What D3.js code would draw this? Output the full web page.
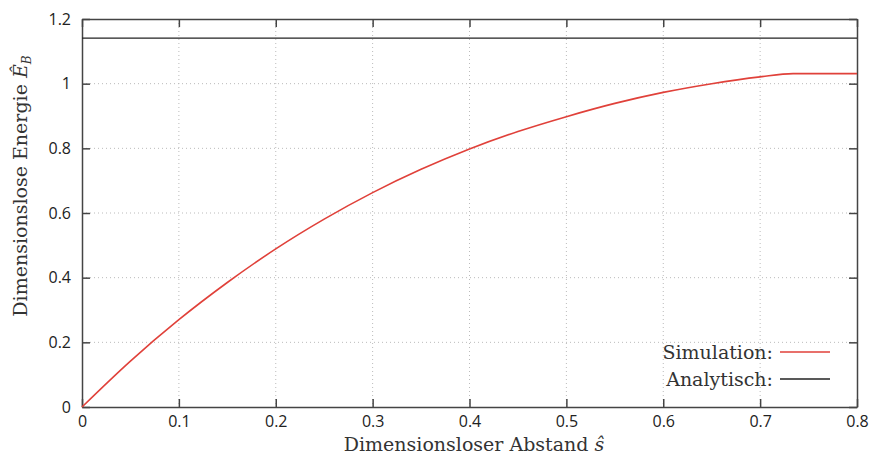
<!DOCTYPE html>
<html>
<head>
<meta charset="utf-8">
<script src="https://cdn.jsdelivr.net/npm/d3@7"></script>
<style>
  body { margin: 0; background: #fff; }
  .tick text { font-family: "Open Sans", sans-serif; font-size: 16px; fill: #222; }
  .title { font-family: "DejaVu Serif", serif; font-size: 19px; fill: #333; }
</style>
</head>
<body>
<div class="chart"></div>
<script>
// Data
var sValues = [0, 0.05, 0.1, 0.15, 0.2, 0.25, 0.3, 0.35, 0.4, 0.45, 0.5, 0.55, 0.6, 0.65, 0.7, 0.734, 0.8];
var simEnergy = [0, 0.142, 0.270, 0.385, 0.489, 0.581, 0.663, 0.735, 0.798, 0.852, 0.898, 0.939, 0.973, 1.0, 1.021, 1.031, 1.031];
var analyticEnergy = 1.141;
var xTicks = [0, 0.1, 0.2, 0.3, 0.4, 0.5, 0.6, 0.7, 0.8];
var yTicks = [0, 0.2, 0.4, 0.6, 0.8, 1, 1.2];

var svgWidth = 872;
var svgHeight = 455;
var margin = { top: 19, right: 15, bottom: 48, left: 82 };
var width = svgWidth - margin.left - margin.right;
var height = svgHeight - margin.top - margin.bottom;

var svg = d3.select(".chart")
  .append("svg")
  .attr("width", svgWidth)
  .attr("height", svgHeight);

var chart = svg.append("g")
  .attr("transform", "translate(" + margin.left + "," + margin.top + ")");

var xScale = d3.scaleLinear().domain([0, 0.8]).range([0, width]);
var yScale = d3.scaleLinear().domain([0, 1.2]).range([height, 0]);

// gridlines
chart.append("g").selectAll("line")
  .data(xTicks.slice(1, -1))
  .enter().append("line")
  .attr("x1", d => xScale(d)).attr("x2", d => xScale(d))
  .attr("y1", 0).attr("y2", height)
  .attr("stroke", "#bbb").attr("stroke-width", 1).attr("stroke-dasharray", "1,3");
chart.append("g").selectAll("line")
  .data(yTicks.slice(1, -1))
  .enter().append("line")
  .attr("x1", 0).attr("x2", width)
  .attr("y1", d => yScale(d)).attr("y2", d => yScale(d))
  .attr("stroke", "#bbb").attr("stroke-width", 1).attr("stroke-dasharray", "1,3");

// axes with inward ticks on all four sides
var fmt = d => d3.format("~g")(d);
var bottomAxis = d3.axisBottom(xScale).tickValues(xTicks).tickFormat(fmt).tickSizeInner(-8).tickSizeOuter(0).tickPadding(9);
var leftAxis = d3.axisLeft(yScale).tickValues(yTicks).tickFormat(fmt).tickSizeInner(-8).tickSizeOuter(0).tickPadding(11);
var topAxis = d3.axisTop(xScale).tickValues(xTicks).tickFormat("").tickSizeInner(-8).tickSizeOuter(0);
var rightAxis = d3.axisRight(yScale).tickValues(yTicks).tickFormat("").tickSizeInner(-8).tickSizeOuter(0);

chart.append("g").attr("transform", "translate(0," + height + ")").call(bottomAxis);
chart.append("g").call(leftAxis);
chart.append("g").call(topAxis);
chart.append("g").attr("transform", "translate(" + width + ",0)").call(rightAxis);

chart.selectAll(".domain").attr("stroke", "#444").attr("stroke-width", 1.5);
chart.selectAll(".tick line").attr("stroke", "#444").attr("stroke-width", 1.5);

// analytic line
chart.append("line")
  .attr("x1", xScale(0)).attr("x2", xScale(0.8))
  .attr("y1", yScale(analyticEnergy)).attr("y2", yScale(analyticEnergy))
  .attr("stroke", "#222").attr("stroke-width", 1.3);

// simulation curve
var line = d3.line()
  .x((d, i) => xScale(sValues[i]))
  .y(d => yScale(d))
  .curve(d3.curveMonotoneX);

chart.append("path")
  .datum(simEnergy)
  .attr("d", line)
  .attr("fill", "none")
  .attr("stroke", "#e0413a")
  .attr("stroke-width", 1.6);

// legend
var legend = [
  { label: "Simulation:", color: "#e0413a", y: 352 },
  { label: "Analytisch:", color: "#222", y: 379 }
];
legend.forEach(function(item) {
  svg.append("text")
    .attr("class", "title")
    .attr("x", 773).attr("y", item.y)
    .attr("dy", "0.35em")
    .attr("text-anchor", "end")
    .text(item.label);
  svg.append("line")
    .attr("x1", 780).attr("x2", 830)
    .attr("y1", item.y).attr("y2", item.y)
    .attr("stroke", item.color).attr("stroke-width", 1.3);
});

// axis titles
var xTitle = svg.append("text")
  .attr("class", "title")
  .attr("x", 474).attr("y", 451)
  .attr("text-anchor", "middle");
xTitle.append("tspan").text("Dimensionsloser Abstand ");
xTitle.append("tspan").attr("font-style", "italic").text("ŝ");

var yTitle = svg.append("text")
  .attr("class", "title")
  .attr("transform", "translate(27,186) rotate(-90)")
  .attr("text-anchor", "middle");
yTitle.append("tspan").text("Dimensionslose Energie ");
yTitle.append("tspan").attr("font-style", "italic").text("Ê");
yTitle.append("tspan").attr("font-style", "italic").attr("font-size", "12px").attr("dy", "4").text("B");
</script>
</body>
</html>
